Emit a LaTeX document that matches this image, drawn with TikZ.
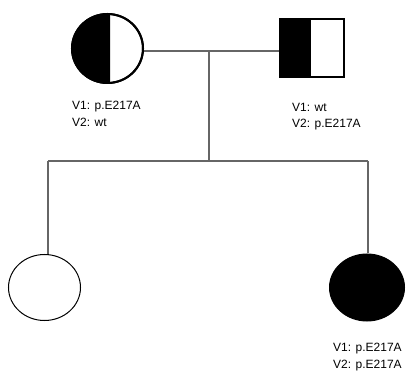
\documentclass[tikz,border=0pt]{standalone}
\usepackage{fontspec}
\setmainfont{Liberation Sans}
\usetikzlibrary{shapes.geometric}
\tikzset{
  link/.style={draw=black!60, line width=1.2pt},
  person/.style={ellipse, draw=black, inner sep=0pt},
  geno/.style={anchor=north west, inner sep=0pt, align=left, font=\fontsize{12}{16.5}\selectfont}
}
\begin{document}
\begin{tikzpicture}[x=1pt,y=-1pt]
\useasboundingbox (0,0) rectangle (415,371);
% mother: left half filled
\node[person, line width=2pt, minimum width=71pt, minimum height=69pt] (mother) at (107.5,48.5) {};
\begin{scope}
  \clip (72,10) rectangle (110,90);
  \fill[black] (107.5,48.5) ellipse [x radius=35.5pt, y radius=34.5pt];
\end{scope}
\node[person, line width=2pt, minimum width=71pt, minimum height=69pt] at (107.5,48.5) {};
% father: left half filled square
\node[draw=black, line width=2.5pt, minimum width=64pt, minimum height=58pt, inner sep=0pt] (father) at (312,48) {};
\fill[black] (father.north west) rectangle (311,78);
\node[draw=black, line width=2.5pt, minimum width=64pt, minimum height=58pt, inner sep=0pt] at (312,48) {};
% children
\node[person, line width=1pt, minimum width=72pt, minimum height=66pt] (child1) at (44.5,287.5) {};
\node[person, fill=black, line width=1pt, minimum width=75pt, minimum height=67pt] (child2) at (367,287.5) {};
% connectors
\coordinate (mid) at (209,51);
\coordinate (sib) at (209,161);
\coordinate (sibL) at (48,161);
\coordinate (sibR) at (368,161);
\draw[link] (mother.east |- mid) -- (father.west |- mid);
\draw[link] (mid) -- (sib);
\draw[link] (sibL) -- (sibR);
\draw[link] (sibL) -- (sibL |- child1.north);
\draw[link] (sibR) -- (sibR |- child2.north);
% labels
\node[geno] (gm) at (72,101) {V1: p.E217A\\V2: wt};
\node[geno] (gf) at (292,103) {V1: wt\\V2: p.E217A};
\node[geno] (gc) at (333,343) {V1: p.E217A\\V2: p.E217A};
\end{tikzpicture}
\end{document}
